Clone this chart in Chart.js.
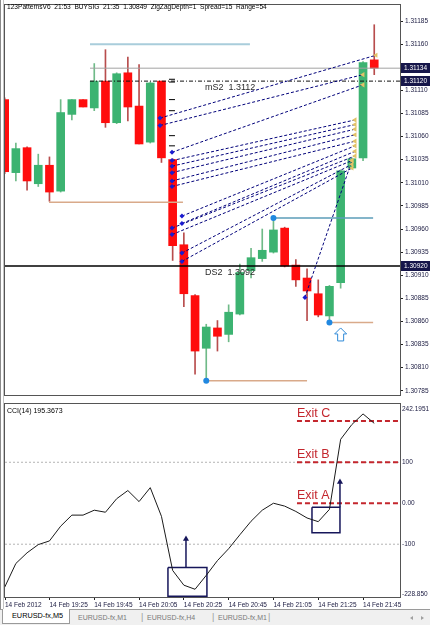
<!DOCTYPE html>
<html>
<head>
<meta charset="utf-8">
<script src="https://cdn.jsdelivr.net/npm/chart.js@4.4.1/dist/chart.umd.min.js"></script>
<style>
  html, body { margin: 0; padding: 0; background: #fff; }
  body { width: 430px; height: 625px; position: relative; overflow: hidden; font-family: 'Liberation Sans', Arial, sans-serif; }
  #priceWrap { position: absolute; left: 0; top: 0; }
  #cciWrap { position: absolute; left: 0; top: 400px; }
  #leftEdge { position: absolute; left: 0; top: 0; width: 2px; height: 610px; border-left: 1px solid #8a8a8a; border-right: 1px solid #c4c4c4; }
  #tabs { position: absolute; left: 0; top: 609px; width: 430px; height: 16px; background: #f0f0f0; border-top: 1px solid #9a9a9a; font-size: 7px; }
  .tab { position: absolute; top: 4px; color: #7a7a7a; white-space: nowrap; }
  .tab.active { top: -1px; left: 2px; width: 68px; height: 15px; line-height: 14px; background: #fff; color: #000; border: 1px solid #9a9a9a; border-top: none; box-sizing: border-box; padding-left: 9px; font-size: 7.3px; }
  .sep { position: absolute; top: 2px; color: #9a9a9a; font-size: 9px; }
  .arr { position: absolute; top: 6px; width: 0; height: 0; border-top: 2.5px solid transparent; border-bottom: 2.5px solid transparent; }
</style>
</head>
<body>
<div id="priceWrap"><canvas id="priceChart" width="430" height="400"></canvas></div>
<div id="cciWrap"><canvas id="cciChart" width="430" height="210"></canvas></div>
<div id="leftEdge"></div>
<div id="tabs">
  <div class="tab active">EURUSD-fx,M5</div>
  <div class="tab" style="left:78px">EURUSD-fx,M1</div>
  <div class="sep" style="left:141px">|</div>
  <div class="tab" style="left:147px">EURUSD-fx,H4</div>
  <div class="sep" style="left:212px">|</div>
  <div class="tab" style="left:218px">EURUSD-fx,M1</div>
  <div class="sep" style="left:268px">|</div>
  <div class="arr" style="left:410px; border-right: 3px solid #a0a0a0"></div>
  <div class="arr" style="left:421px; border-left: 3px solid #a0a0a0"></div>
</div>
<script>
const FONT = "'Liberation Sans', Arial, sans-serif";

// EURUSD M5 bars, first one = 14 Feb 19:05
const opens  = [1.31100, 1.31021, 1.31048, 1.31009, 1.31029, 1.31001, 1.31084, 1.31100, 1.31091, 1.31120,
                1.31075, 1.31129, 1.31093, 1.31054, 1.31120, 1.31035, 1.30943, 1.30888, 1.30831, 1.30853,
                1.30846, 1.30868, 1.30915, 1.30928, 1.30935, 1.30961, 1.30921, 1.30907, 1.30890, 1.30866,
                1.30902, 1.31026, 1.31037, 1.31143];
const highs  = [1.31102, 1.31053, 1.31049, 1.31041, 1.31038, 1.31100, 1.31100, 1.31100, 1.31139, 1.31154,
                1.31129, 1.31146, 1.31138, 1.31119, 1.31120, 1.31036, 1.30956, 1.30889, 1.30857, 1.30861,
                1.30878, 1.30922, 1.30939, 1.30960, 1.30972, 1.30962, 1.30927, 1.30917, 1.30905, 1.30899,
                1.31024, 1.31037, 1.31141, 1.31181];
const lows   = [1.31020, 1.31012, 1.31002, 1.31006, 1.30990, 1.31000, 1.31078, 1.31092, 1.31088, 1.31070,
                1.31074, 1.31077, 1.31052, 1.31053, 1.31032, 1.30926, 1.30876, 1.30803, 1.30796, 1.30828,
                1.30838, 1.30867, 1.30907, 1.30925, 1.30934, 1.30919, 1.30898, 1.30861, 1.30865, 1.30859,
                1.30896, 1.31025, 1.31034, 1.31127];
const closes = [1.31022, 1.31047, 1.31012, 1.31029, 1.31000, 1.31086, 1.31100, 1.31092, 1.31120, 1.31075,
                1.31128, 1.31092, 1.31052, 1.31118, 1.31037, 1.30942, 1.30890, 1.30828, 1.30854, 1.30844,
                1.30870, 1.30913, 1.30929, 1.30937, 1.30959, 1.30920, 1.30905, 1.30893, 1.30867, 1.30898,
                1.31023, 1.31036, 1.31140, 1.31134];

// CCI(14), one value per bar
const cci = [-205, -147, -121, -101, -92, -56, -29, -29, -17, -22,
             11, 31, 4, 38, -32, -164, -200, -210, -176, -140,
             -111, -77, -44, -17, 0, -7, -20, -36, -45, -15,
             156, 192, 218, 195];

const priceTicks = [1.30785, 1.30810, 1.30835, 1.30860, 1.30885, 1.30910, 1.30935, 1.30960, 1.30985,
                    1.31010, 1.31035, 1.31060, 1.31085, 1.31110, 1.31135, 1.31160, 1.31185];
const priceTags = [1.31134, 1.31120, 1.30920];
const cciTicks = [242.1951, 100, 0, -100, -228.85];
const cciTickLabels = ['242.1951', '100', '0.00', '-100', '-228.850'];
const timeTicks = [0.03, 4, 8, 12, 16, 20, 24, 28, 32];
const timeLabels = ['14 Feb 2012', '14 Feb 19:25', '14 Feb 19:45', '14 Feb 20:05', '14 Feb 20:25',
                    '14 Feb 20:45', '14 Feb 21:05', '14 Feb 21:25', '14 Feb 21:45'];

const titleText = '123PatternsV6  21:53  BUYSIG  21:35  1.30849  ZigZagDepth=1  Spread=15  Range=54';
const cciTitle = 'CCI(14) 195.3673';

// horizontal objects on the price chart: [from bar, to bar, price]
const levelFrom   = [7.62, 7.62, 7.62, 0.03, 3.96, 18, 29, 24];
const levelTo     = [21.9, 35.3, 35.3, 35.3, 15.92, 27, 32.9, 32.9];
const levelPrice  = [1.31160, 1.31134, 1.31120, 1.30920, 1.30989, 1.30796, 1.30859, 1.30972];
const levelColor  = ['#a9cddb', '#a2a2a2', '#111', '#000', '#d9aa8a', '#d9aa8a', '#d9aa8a', '#5b9db8'];
const levelWidth  = [2, 1, 1, 1.5, 1.5, 1.5, 1.5, 1.5];
const levelDash   = [[], [], [4, 2, 1, 2], [], [], [], [], []];
const captionText  = ['mS2  1.3112', 'DS2  1.3092'];
const captionPrice = [1.31120, 1.30920];

// 123 pattern projection lines
const patFromK = [13.87, 13.87, 14.94, 14.94, 14.94, 14.94, 14.94, 14.94, 15.83, 15.83, 14.94, 14.94, 15.83, 15.83, 26.81];
const patFromP = [1.31080, 1.31072, 1.31043, 1.31034, 1.31028, 1.31021, 1.31012, 1.31006, 1.30974, 1.30966, 1.30961, 1.30954, 1.30934, 1.30925, 1.30886];
const patToK   = [33.15, 31.99, 31.99, 31.28, 31.28, 31.28, 31.28, 31.28, 31.28, 31.28, 31.28, 31.01, 31.01, 31.01, 31.01];
const patToP   = [1.31148, 1.31127, 1.31116, 1.31078, 1.31073, 1.31068, 1.31062, 1.31055, 1.31050, 1.31044, 1.31039, 1.31034, 1.31030, 1.31026, 1.31034];

const zigzagMarks = [1.31122, 1.31119, 1.31100, 1.31088, 1.31061, 1.31050];
const swingBars   = [18, 24, 29];
const swingPrices = [1.30796, 1.30972, 1.30859];
const buyArrowBar = 30;
const buyArrowPrice = 1.30853;

// CCI panel objects
const exitNames  = ['Exit A', 'Exit B', 'Exit C'];
const exitLevels = [0, 100, 201];
const exitFrom = 26.1;
const boxLeft   = [14.58, 27.44];
const boxRight  = [18.06, 29.94];
const boxTop    = [-157, -10];
const boxBottom = [-227, -72];
const arrowBar  = [16.19, 29.94];
const arrowTo   = [-87, 52];

const xMin = 0.03, xMax = 35.3;

const bars = opens.map((o, k) => k);
const up = bars.map(k => closes[k] >= opens[k]);

function segment(x0, x1, v0, v1, extra) {
  return Object.assign({
    type: 'line',
    data: [{x: x0, y: v0}, {x: x1, y: v1}],
    pointRadius: 0,
    fill: false
  }, extra);
}

const priceDatasets = [];
priceDatasets.push({
  type: 'scatter',
  data: swingBars.map((k, i) => ({x: k, y: swingPrices[i]})),
  pointRadius: 3, backgroundColor: '#2188e0', borderWidth: 0, order: 1
});
priceDatasets.push({
  type: 'scatter',
  data: zigzagMarks.map(p => ({x: 14.94, y: p})),
  pointStyle: 'line', pointRadius: 3, borderColor: '#000', borderWidth: 1, order: 2
});
patFromK.forEach((k, i) => {
  priceDatasets.push(segment(k, patToK[i], patFromP[i], patToP[i], {
    borderColor: '#00007a', borderWidth: 1, borderDash: [3, 2], order: 3,
    pointRadius: [2.5, 3], pointStyle: ['rectRot', 'triangle'], pointRotation: [0, -90],
    pointBackgroundColor: ['#1a1ad0', '#e2c268'], pointBorderWidth: 0
  }));
});
levelPrice.forEach((p, i) => {
  priceDatasets.push(segment(levelFrom[i], levelTo[i], p, p, {
    borderColor: levelColor[i], borderWidth: levelWidth[i], borderDash: levelDash[i], order: 5
  }));
});
priceDatasets.push({
  type: 'bar',
  data: bars.map(k => ({x: k, y: [opens[k], closes[k]]})),
  backgroundColor: bars.map(k => up[k] ? '#3cb371' : '#ff0d0d'),
  barThickness: 8, grouped: false, minBarLength: 1, order: 8
});
priceDatasets.push({
  type: 'bar',
  data: bars.map(k => ({x: k, y: [lows[k], highs[k]]})),
  backgroundColor: bars.map(k => up[k] ? '#6fba88' : '#b84d4d'),
  barThickness: 1, grouped: false, order: 9
});

const priceDecor = {
  id: 'priceDecor',
  afterDraw(chart) {
    const {ctx, chartArea: a, scales: {x, y}} = chart;
    ctx.save();
    ctx.strokeStyle = '#555';
    ctx.lineWidth = 1;
    ctx.strokeRect(a.left - 0.5, a.top - 0.5, a.right - a.left + 1, a.bottom - a.top + 1);

    ctx.fillStyle = '#000';
    ctx.font = '6.6px ' + FONT;
    ctx.textBaseline = 'middle';
    ctx.fillText(titleText, 7, 7);

    ctx.fillStyle = '#2b2b2b';
    ctx.font = '9px ' + FONT;
    ctx.textBaseline = 'alphabetic';
    captionText.forEach((t, i) => {
      ctx.fillText(t, x.getPixelForValue(17.88), y.getPixelForValue(captionPrice[i]) + 9);
    });

    // hollow buy arrow under the signal bar
    const ax = x.getPixelForValue(buyArrowBar), ay = y.getPixelForValue(buyArrowPrice);
    ctx.beginPath();
    ctx.moveTo(ax, ay);
    ctx.lineTo(ax + 6, ay + 6);
    ctx.lineTo(ax + 3, ay + 6);
    ctx.lineTo(ax + 3, ay + 13);
    ctx.lineTo(ax - 3, ay + 13);
    ctx.lineTo(ax - 3, ay + 6);
    ctx.lineTo(ax - 6, ay + 6);
    ctx.closePath();
    ctx.fillStyle = '#fff';
    ctx.fill();
    ctx.strokeStyle = '#2f8ad8';
    ctx.stroke();

    ctx.font = '6.5px ' + FONT;
    ctx.textBaseline = 'middle';
    priceTags.forEach(p => {
      const py = Math.round(y.getPixelForValue(p));
      ctx.fillStyle = '#16164a';
      ctx.fillRect(a.right + 1, py - 5, 30, 10);
      ctx.fillStyle = '#fff';
      ctx.fillText(p.toFixed(5), a.right + 4, py + 0.5);
    });
    ctx.restore();
  }
};

new Chart(document.getElementById('priceChart'), {
  type: 'bar',
  data: {datasets: priceDatasets},
  options: {
    responsive: false,
    animation: false,
    events: [],
    layout: {padding: {left: 5, top: 1, bottom: 1, right: 0}},
    plugins: {legend: {display: false}, tooltip: {enabled: false}},
    scales: {
      x: {type: 'linear', min: xMin, max: xMax, offset: false, display: false},
      y: {
        position: 'right', min: 1.3078046, max: 1.3120234,
        afterBuildTicks: s => { s.ticks = priceTicks.map(v => ({value: v})); },
        afterFit: s => { s.width = 30; s.paddingTop = 0; s.paddingBottom = 0; },
        ticks: {padding: 2, color: '#1a1a40', font: {size: 6.5, family: FONT}, callback: v => v.toFixed(5)},
        grid: {drawOnChartArea: false, tickLength: 3, color: '#222'},
        border: {color: '#444'}
      }
    }
  },
  plugins: [priceDecor]
});

const cciDatasets = [];
cciDatasets.push(segment(xMin, xMax, 100, 100, {borderColor: '#b4b4b4', borderWidth: 1, borderDash: [2, 2], order: 6}));
cciDatasets.push(segment(xMin, xMax, -100, -100, {borderColor: '#b4b4b4', borderWidth: 1, borderDash: [2, 2], order: 6}));
exitLevels.forEach(v => {
  cciDatasets.push(segment(exitFrom, xMax, v, v, {borderColor: '#c4262d', borderWidth: 2, borderDash: [5, 3], order: 4}));
});
boxLeft.forEach((l, i) => {
  cciDatasets.push({
    type: 'line',
    data: [{x: l, y: boxTop[i]}, {x: boxRight[i], y: boxTop[i]}, {x: boxRight[i], y: boxBottom[i]},
           {x: l, y: boxBottom[i]}, {x: l, y: boxTop[i]}],
    borderColor: '#16165a', borderWidth: 1.5, pointRadius: 0, fill: false, order: 3
  });
  cciDatasets.push(segment(arrowBar[i], arrowBar[i], boxTop[i], arrowTo[i], {
    borderColor: '#16165a', borderWidth: 1.5, order: 2,
    pointRadius: [0, 3.5], pointStyle: 'triangle', pointBackgroundColor: '#16165a', pointBorderWidth: 0
  }));
});
cciDatasets.push({
  type: 'line',
  data: cci.map((v, k) => ({x: k, y: v})),
  borderColor: '#1a1a1a', borderWidth: 1, pointRadius: 0, fill: false, order: 1
});

const cciDecor = {
  id: 'cciDecor',
  afterDraw(chart) {
    const {ctx, chartArea: a, scales: {x, y}} = chart;
    ctx.save();
    ctx.strokeStyle = '#555';
    ctx.lineWidth = 1;
    ctx.strokeRect(a.left - 0.5, a.top - 0.5, a.right - a.left + 1, a.bottom - a.top + 1);

    ctx.fillStyle = '#000';
    ctx.font = '7px ' + FONT;
    ctx.textBaseline = 'middle';
    ctx.fillText(cciTitle, 7, a.top + 7);

    ctx.fillStyle = '#c4262d';
    ctx.font = '12.5px ' + FONT;
    ctx.textBaseline = 'alphabetic';
    exitNames.forEach((n, i) => {
      ctx.fillText(n, x.getPixelForValue(exitFrom), y.getPixelForValue(exitLevels[i]) - 4);
    });

    ctx.fillStyle = '#1a1a40';
    ctx.font = '6.5px ' + FONT;
    ctx.textBaseline = 'middle';
    cciTicks.forEach((v, i) => {
      let py = y.getPixelForValue(v);
      py = Math.min(Math.max(py, a.top + 5), a.bottom - 3);
      ctx.fillText(cciTickLabels[i], a.right + 2, py);
    });
    ctx.restore();
  }
};

new Chart(document.getElementById('cciChart'), {
  type: 'line',
  data: {datasets: cciDatasets},
  options: {
    responsive: false,
    animation: false,
    events: [],
    layout: {padding: {left: 5, top: 1, bottom: 0, right: 0}},
    plugins: {legend: {display: false}, tooltip: {enabled: false}},
    scales: {
      x: {
        type: 'linear', min: xMin, max: xMax, offset: false, position: 'bottom',
        afterBuildTicks: s => { s.ticks = timeTicks.map(v => ({value: v})); },
        afterFit: s => { s.height = 13; s.paddingLeft = 0; s.paddingRight = 0; },
        ticks: {autoSkip: false, maxRotation: 0, minRotation: 0, align: 'start', padding: 1,
                color: '#1a1a40', font: {size: 6.5, family: FONT}, callback: (v, i) => timeLabels[i]},
        grid: {drawOnChartArea: false, tickLength: 3, color: '#222'},
        border: {color: '#444'}
      },
      y: {
        position: 'right', min: -228.85, max: 242.1951,
        afterBuildTicks: s => { s.ticks = cciTicks.map(v => ({value: v})); },
        afterFit: s => { s.width = 30; s.paddingTop = 0; s.paddingBottom = 0; },
        ticks: {display: false},
        grid: {drawOnChartArea: false, drawTicks: false},
        border: {color: '#444'}
      }
    }
  },
  plugins: [cciDecor]
});
</script>
</body>
</html>
